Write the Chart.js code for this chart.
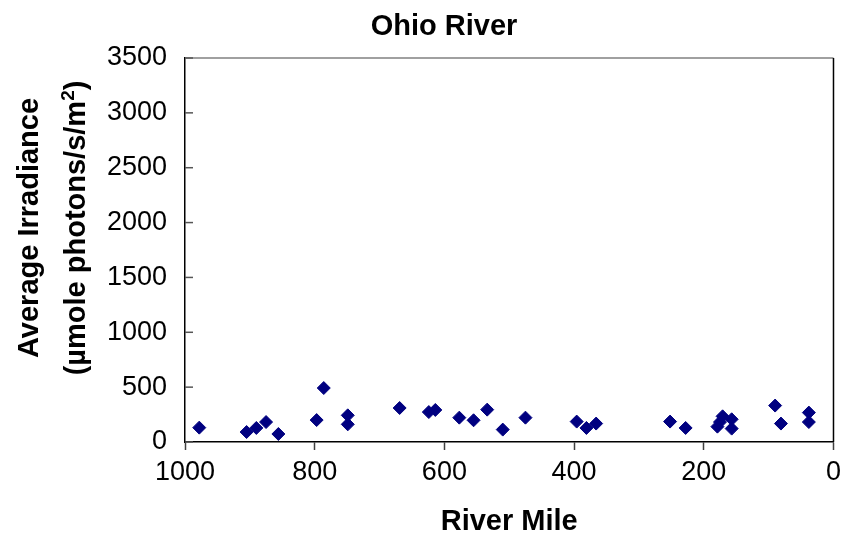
<!DOCTYPE html>
<html>
<head>
<meta charset="utf-8">
<script src="https://cdn.jsdelivr.net/npm/chart.js@4/dist/chart.umd.min.js"></script>
<style>
  html, body { margin: 0; padding: 0; background: #ffffff; }
  #wrap { width: 847px; height: 535px; position: relative; }
</style>
</head>
<body>
<div id="wrap"><canvas id="chart"></canvas></div>
<script>
// Sampling stations along the Ohio River
const riverMile  = [978, 905, 890, 875, 856, 797, 786, 749, 749, 669, 624, 614, 577, 555, 534, 510,
                    475, 396, 381, 366, 252, 228, 179, 175, 171, 157, 157, 90, 81, 38, 38];
const irradiance = [131, 91, 128, 182, 73, 200, 492, 243, 161, 310, 273, 292, 222, 198, 295, 113,
                    222, 186, 128, 168, 186, 128, 140, 182, 234, 207, 122, 332, 168, 268, 182];
const xTickValues = [1000, 800, 600, 400, 200, 0];
const yTickValues = [0, 500, 1000, 1500, 2000, 2500, 3000, 3500];

const chartTitle = 'Ohio River';
const xTitle = 'River Mile';
const yTitleLine1 = 'Average Irradiance';
const yTitleLine2 = '(\u00b5mole photons/s/m';
const yTitleSup = '2';
const yTitleEnd = ')';

const FONT = "'Liberation Sans', Arial, sans-serif";

const points = riverMile.map((m, i) => ({ x: m, y: irradiance[i] }));

// Frame, inward y tick marks and the text outside the axes
const decorations = {
  id: 'decorations',
  afterDraw(chart) {
    const { ctx, chartArea: a } = chart;
    const yScale = chart.scales.y;
    ctx.save();
    // top border (gray) and right border (black)
    ctx.lineWidth = 1.5;
    ctx.strokeStyle = '#808080';
    ctx.beginPath(); ctx.moveTo(a.left, a.top); ctx.lineTo(a.right, a.top); ctx.stroke();
    ctx.strokeStyle = '#000000';
    ctx.beginPath(); ctx.moveTo(a.right, a.top); ctx.lineTo(a.right, a.bottom); ctx.stroke();
    // y tick marks pointing into the plot
    ctx.strokeStyle = '#555555';
    ctx.lineWidth = 1.5;
    yScale.ticks.forEach(t => {
      const py = yScale.getPixelForValue(t.value);
      ctx.beginPath(); ctx.moveTo(a.left, py); ctx.lineTo(a.left + 8, py); ctx.stroke();
    });

    // chart title
    ctx.fillStyle = '#000000';
    ctx.font = 'bold 29px ' + FONT;
    ctx.textAlign = 'center';
    ctx.textBaseline = 'alphabetic';
    ctx.fillText(chartTitle, 444, 35);

    // rotated two-line y axis title
    const cy = 228;
    ctx.save();
    ctx.translate(37.5, cy);
    ctx.rotate(-Math.PI / 2);
    ctx.font = 'bold 29px ' + FONT;
    ctx.textAlign = 'center';
    ctx.fillText(yTitleLine1, 0, 0);
    ctx.restore();

    ctx.save();
    ctx.translate(85, cy);
    ctx.rotate(-Math.PI / 2);
    ctx.textAlign = 'left';
    ctx.font = 'bold 29px ' + FONT;
    const w1 = ctx.measureText(yTitleLine2).width;
    const w3 = ctx.measureText(yTitleEnd).width;
    ctx.font = 'bold 19px ' + FONT;
    const w2 = ctx.measureText(yTitleSup).width;
    let x0 = -(w1 + w2 + w3) / 2;
    ctx.font = 'bold 29px ' + FONT;
    ctx.fillText(yTitleLine2, x0, 0);
    ctx.font = 'bold 19px ' + FONT;
    ctx.fillText(yTitleSup, x0 + w1, -11);
    ctx.font = 'bold 29px ' + FONT;
    ctx.fillText(yTitleEnd, x0 + w1 + w2, 0);
    ctx.restore();

    ctx.restore();
  }
};

new Chart(document.getElementById('chart'), {
  type: 'scatter',
  data: {
    datasets: [{
      data: points,
      pointStyle: 'rectRot',
      pointRadius: 6.5,
      pointHoverRadius: 6.5,
      backgroundColor: '#000080',
      borderColor: '#000080',
      borderWidth: 1
    }]
  },
  options: {
    responsive: true,
    maintainAspectRatio: false,
    animation: false,
    events: [],
    layout: { padding: { top: 58, right: 9, bottom: 0, left: 0 } },
    plugins: {
      legend: { display: false },
      title: { display: false },
      tooltip: { enabled: false }
    },
    scales: {
      x: {
        type: 'linear',
        reverse: true,
        min: 0,
        max: 1000,
        afterBuildTicks(scale) { scale.ticks = xTickValues.map(v => ({ value: v })); },
        afterFit(scale) { scale.height = 93; },
        grid: {
          drawOnChartArea: false,
          drawTicks: true,
          tickLength: 8,
          tickColor: '#404040',
          tickWidth: 1.5
        },
        border: { display: true, color: '#000000', width: 1.5 },
        ticks: {
          padding: 6,
          color: '#000000',
          font: { family: FONT, size: 27 },
          maxRotation: 0,
          callback: v => String(v)
        },
        title: {
          display: true,
          text: xTitle,
          color: '#000000',
          font: { family: FONT, size: 29, weight: 'bold' },
          padding: { top: 0, bottom: -4 }
        }
      },
      y: {
        type: 'linear',
        min: 0,
        max: 3500,
        afterBuildTicks(scale) { scale.ticks = yTickValues.map(v => ({ value: v })); },
        afterFit(scale) { scale.width = 185; },
        grid: { display: false, drawTicks: false },
        border: { display: true, color: '#000000', width: 1.5 },
        ticks: {
          padding: 18,
          color: '#000000',
          font: { family: FONT, size: 27 },
          callback: v => String(v)
        }
      }
    }
  },
  plugins: [decorations]
});
</script>
</body>
</html>
